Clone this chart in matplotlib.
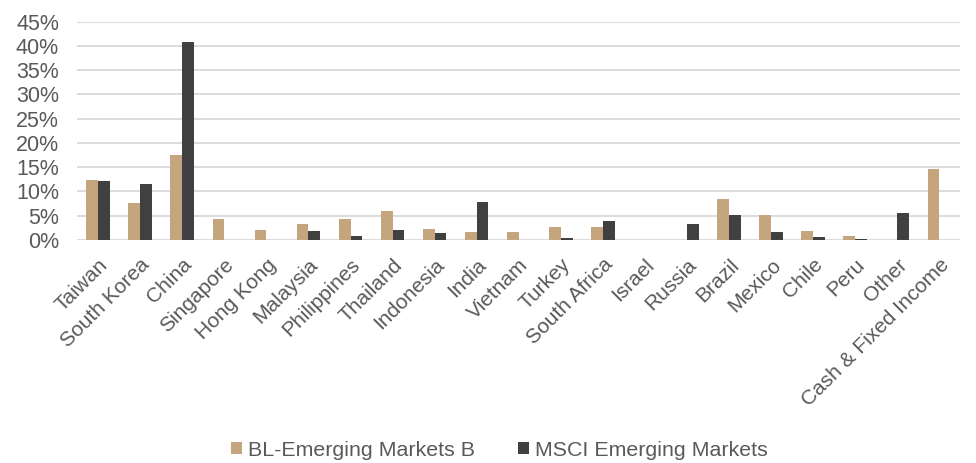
import matplotlib
matplotlib.use('Agg')
import matplotlib.pyplot as plt
import numpy as np
from matplotlib.ticker import PercentFormatter

countries = ['Taiwan', 'South Korea', 'China', 'Singapore', 'Hong Kong', 'Malaysia',
             'Philippines', 'Thailand', 'Indonesia', 'India', 'Vietnam', 'Turkey',
             'South Africa', 'Israel', 'Russia', 'Brazil', 'Mexico', 'Chile', 'Peru',
             'Other', 'Cash & Fixed Income']
bl_fund = [12.4, 7.6, 17.5, 4.3, 2.1, 3.2, 4.2, 5.9, 2.3, 1.6, 1.65, 2.75,
           2.7, 0.0, 0.0, 8.4, 5.1, 1.9, 0.8, 0.0, 14.6]
msci = [12.2, 11.6, 40.9, 0.0, 0.0, 1.8, 0.8, 2.1, 1.4, 7.9, 0.0, 0.4,
        3.8, 0.0, 3.2, 5.1, 1.7, 0.5, 0.25, 5.6, 0.0]

names = ['BL-Emerging Markets B', 'MSCI Emerging Markets']
colors = ['#C4A57D', '#404040']
grey = '#595959'

plt.rcParams['font.family'] = ['Liberation Sans', 'DejaVu Sans']

fig = plt.figure(figsize=(9.76, 4.63), dpi=100)
ax = fig.add_axes([0.079, 0.482, 0.905, 0.471])

x = np.arange(len(countries))
w = 0.28
ax.bar(x - w/2, bl_fund, w, color=colors[0], label=names[0], zorder=3)
ax.bar(x + w/2, msci, w, color=colors[1], label=names[1], zorder=3)

ax.set_xlim(-0.5, len(countries) - 0.5)
ax.set_ylim(0, 45)
ax.set_yticks(np.arange(0, 46, 5))
ax.yaxis.set_major_formatter(PercentFormatter(decimals=0))
ax.grid(axis='y', color='#D9D9D9', linewidth=1.3, zorder=0)
for s in ax.spines.values():
    s.set_visible(False)
ax.tick_params(length=0, colors=grey)
ax.tick_params(axis='y', labelsize=15.5, pad=13)
ax.tick_params(axis='x', labelsize=15, pad=11)
ax.set_xticks(x)
ax.set_xticklabels(countries, rotation=45, ha='right', rotation_mode='anchor')

fig.legend(loc='lower center', bbox_to_anchor=(0.512, -0.035), ncol=2, frameon=False,
           fontsize=15.4, labelcolor=grey, handlelength=0.5, handleheight=0.5,
           handletextpad=0.3, columnspacing=2.0)

fig.savefig('out.png', dpi=100)
